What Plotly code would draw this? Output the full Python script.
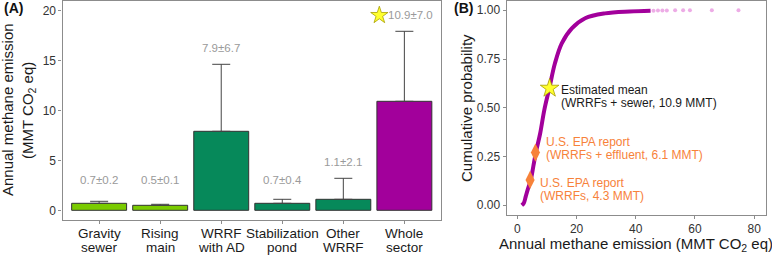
import plotly.graph_objects as go

# ---------------- data ----------------
categories = [["Gravity", "sewer"], ["Rising", "main"], ["WRRF", "with AD"],
              ["Stabilization", "pond"], ["Other", "WRRF"], ["Whole", "sector"]]
means = [0.7, 0.5, 7.9, 0.7, 1.1, 10.9]
sds = [0.2, 0.1, 6.7, 0.4, 2.1, 7.0]
bar_colors = ["#7ACB00", "#7ACB00", "#06895A", "#06895A", "#06895A", "#A2009B"]

# cumulative distribution
cdf_x = [1.5, 2.2, 2.8, 3.6, 4.5, 5.4, 6.3, 7.7, 9.1, 10.8, 12.7, 15.0, 18.4, 22.9, 29.6, 38.0, 45.0]
cdf_p = [0.0, 0.012, 0.043, 0.085, 0.128, 0.2, 0.274, 0.368, 0.488, 0.6, 0.728, 0.83, 0.907, 0.959, 0.984, 0.994, 0.998]
tail_x = [46.0, 47.5, 49.0, 50.5, 53.3, 56.0, 58.3, 65.7, 74.7]
tail_p = [0.998, 0.999, 0.999, 0.999, 0.9995, 0.9995, 0.9995, 0.9998, 1.0]

mean_point = (10.9, 0.6)
epa_points_x = [4.3, 6.1]
epa_points_p = [0.13, 0.27]
epa_labels = [["U.S. EPA report", "(WRRFs, 4.3 MMT)"],
              ["U.S. EPA report", "(WRRFs + effluent, 6.1 MMT)"]]
mean_label = ["Estimated mean", "(WRRFs + sewer, 10.9 MMT)"]

FONT = "Arial, Liberation Sans, sans-serif"
W, H = 772, 255
FRAME = "#8c8c8c"
ORANGE = "#F7823A"
MAGENTA = "#A2009B"

def px_x(p):
    return p / W

def px_y(p):
    return (H - p) / H

x_idx = list(range(len(categories)))

fig = go.Figure()

# ---------- Panel A ----------
fig.add_trace(go.Bar(
    x=x_idx, y=means, width=0.9,
    marker=dict(color=bar_colors, line=dict(color="#333333", width=1)),
    error_y=dict(type="data", array=sds, arrayminus=[0] * len(sds), symmetric=False,
                 color="#444444", thickness=1, width=9),
    xaxis="x", yaxis="y", showlegend=False, hoverinfo="skip"))

label_y = [max(m + s + 1.6, 3.0) for m, s in zip(means, sds)]
annotations = []
for i, (m, s, ly) in enumerate(zip(means, sds, label_y)):
    annotations.append(dict(
        x=i, y=ly, xref="x", yref="y", text=f"{m:.1f}±{s:.1f}", showarrow=False,
        font=dict(family=FONT, size=11.5, color="#9a9a9a"),
        xanchor="center", yanchor="middle", xshift=6 if i == len(means) - 1 else 0))

# star next to whole-sector label
fig.add_trace(go.Scatter(
    x=[len(means) - 1 - 0.41], y=[label_y[-1]], mode="markers",
    marker=dict(symbol="star", size=13, color="#FFFF2E", line=dict(color="#A8A000", width=0.8)),
    xaxis="x", yaxis="y", showlegend=False, hoverinfo="skip"))

# two-line category labels
for i, (l1, l2) in enumerate(categories):
    for text, yp in ((l1, 233), (l2, 247.5)):
        annotations.append(dict(
            x=i, y=px_y(yp), xref="x", yref="paper", text=text, showarrow=False,
            font=dict(family=FONT, size=13.5, color="#1a1a1a"),
            xanchor="center", yanchor="middle"))

# y title A (two lines)
for text, xp in (("Annual methane emission", 7), ("(MMT CO<sub>2</sub> eq)", 28)):
    annotations.append(dict(
        x=px_x(xp), y=px_y(110), xref="paper", yref="paper", text=text, showarrow=False,
        textangle=-90, font=dict(family=FONT, size=15, color="#1a1a1a"),
        xanchor="center", yanchor="middle"))

annotations.append(dict(x=px_x(2), y=px_y(8), xref="paper", yref="paper", text="<b>(A)</b>",
                        showarrow=False, font=dict(family=FONT, size=14, color="#111"),
                        xanchor="left", yanchor="middle"))
annotations.append(dict(x=px_x(452), y=px_y(8), xref="paper", yref="paper", text="<b>(B)</b>",
                        showarrow=False, font=dict(family=FONT, size=14, color="#111"),
                        xanchor="left", yanchor="middle"))

# ---------- Panel B ----------
fig.add_trace(go.Scatter(
    x=cdf_x, y=cdf_p, mode="lines", line=dict(color=MAGENTA, width=4, shape="spline"),
    xaxis="x2", yaxis="y2", showlegend=False, hoverinfo="skip"))
fig.add_trace(go.Scatter(
    x=tail_x, y=tail_p, mode="markers",
    marker=dict(color="rgba(215,70,200,0.45)", size=4),
    xaxis="x2", yaxis="y2", showlegend=False, hoverinfo="skip"))
fig.add_trace(go.Scatter(
    x=epa_points_x, y=epa_points_p, mode="markers",
    marker=dict(symbol="diamond-tall", size=13, color=ORANGE),
    xaxis="x2", yaxis="y2", showlegend=False, hoverinfo="skip"))
fig.add_trace(go.Scatter(
    x=[mean_point[0]], y=[mean_point[1]], mode="markers",
    marker=dict(symbol="star", size=14, color="#FFFF2E", line=dict(color="#A8A000", width=0.8)),
    xaxis="x2", yaxis="y2", showlegend=False, hoverinfo="skip"))

def two_line(lines, x, yc, color):
    for k, t in enumerate(lines):
        annotations.append(dict(
            x=x, y=yc, xref="x2", yref="paper", text=t, showarrow=False,
            font=dict(family=FONT, size=12, color=color),
            xanchor="left", yanchor="middle", yshift=6.5 - 13 * k))

two_line(mean_label, 14.2, px_y(96), "#1a1a1a")
two_line(epa_labels[1], 9.0, px_y(149), ORANGE)
two_line(epa_labels[0], 7.1, px_y(189), ORANGE)

annotations.append(dict(x=px_x(636), y=px_y(244), xref="paper", yref="paper",
                        text="Annual methane emission (MMT CO<sub>2</sub> eq)", showarrow=False,
                        font=dict(family=FONT, size=15, color="#1a1a1a"),
                        xanchor="center", yanchor="middle"))
annotations.append(dict(x=px_x(466), y=px_y(108), xref="paper", yref="paper",
                        text="Cumulative probability", showarrow=False, textangle=-90,
                        font=dict(family=FONT, size=15, color="#1a1a1a"),
                        xanchor="center", yanchor="middle"))

axis_common = dict(showline=True, mirror=True, linecolor=FRAME, linewidth=1.2,
                   ticks="outside", ticklen=3, tickcolor=FRAME, tickwidth=1.2,
                   showgrid=False, zeroline=False,
                   tickfont=dict(family=FONT, size=12, color="#333333"))

fig.update_layout(
    width=W, height=H, margin=dict(l=0, r=0, t=0, b=0),
    paper_bgcolor="white", plot_bgcolor="white",
    xaxis=dict(domain=[px_x(62.5), px_x(441)], range=[-0.6, 5.6],
               tickvals=x_idx, showticklabels=False, anchor="y", **axis_common),
    yaxis=dict(domain=[px_y(220), px_y(0.5)], range=[-0.97, 20.98],
               tickvals=[0, 5, 10, 15, 20], anchor="x", **axis_common),
    xaxis2=dict(domain=[px_x(506.7), px_x(765.7)], range=[-3.6, 83.9],
                tickvals=[0, 20, 40, 60, 80], anchor="y2", ticklabelstandoff=-1, **axis_common),
    yaxis2=dict(domain=[px_y(215), px_y(0.5)], range=[-0.05, 1.05],
                tickvals=[0, 0.25, 0.5, 0.75, 1.0], tickformat=".2f", anchor="x2", **axis_common),
    annotations=annotations,
)

fig.write_html("out.html", config={"displayModeBar": False},
               post_script="document.body.style.margin='0';document.body.style.overflow='hidden';")
